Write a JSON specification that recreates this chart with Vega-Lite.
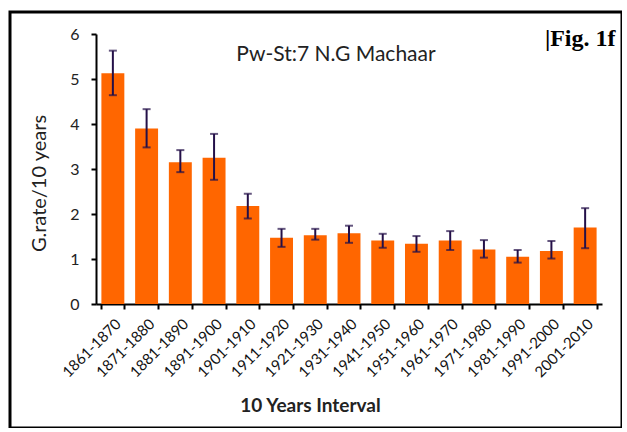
{
  "$schema": "https://vega.github.io/schema/vega-lite/v6.json",
  "width": 612,
  "height": 416,
  "autosize": {"type": "none"},
  "padding": {"left": 10, "top": 12, "right": 0, "bottom": 0},
  "background": "white",
  "config": {
    "view": {"stroke": "black", "strokeWidth": 3},
    "font": "Lato"
  },
  "title": {
    "text": "Pw-St:7 N.G Machaar",
    "font": "Lato",
    "fontSize": 21,
    "fontWeight": "normal",
    "color": "#222222",
    "anchor": "middle",
    "frame": "group",
    "dx": 20,
    "dy": 57
  },
  "data": {
    "values": [
      {"interval": "1861-1870", "rate": 5.13, "lo": 4.64, "hi": 5.63},
      {"interval": "1871-1880", "rate": 3.90, "lo": 3.48, "hi": 4.33},
      {"interval": "1881-1890", "rate": 3.15, "lo": 2.93, "hi": 3.42},
      {"interval": "1891-1900", "rate": 3.25, "lo": 2.76, "hi": 3.78},
      {"interval": "1901-1910", "rate": 2.18, "lo": 1.90, "hi": 2.45},
      {"interval": "1911-1920", "rate": 1.47, "lo": 1.27, "hi": 1.67},
      {"interval": "1921-1930", "rate": 1.53, "lo": 1.43, "hi": 1.67},
      {"interval": "1931-1940", "rate": 1.57, "lo": 1.36, "hi": 1.74},
      {"interval": "1941-1950", "rate": 1.41, "lo": 1.25, "hi": 1.56},
      {"interval": "1951-1960", "rate": 1.34, "lo": 1.16, "hi": 1.51},
      {"interval": "1961-1970", "rate": 1.41, "lo": 1.20, "hi": 1.62},
      {"interval": "1971-1980", "rate": 1.21, "lo": 1.03, "hi": 1.42},
      {"interval": "1981-1990", "rate": 1.05, "lo": 0.92, "hi": 1.20},
      {"interval": "1991-2000", "rate": 1.18, "lo": 1.01, "hi": 1.40},
      {"interval": "2001-2010", "rate": 1.70, "lo": 1.24, "hi": 2.13}
    ]
  },
  "resolve": {"axis": {"x": "independent"}},
  "layer": [
    {
      "mark": {"type": "bar", "color": "#FF6600"},
      "encoding": {
        "x": {
          "field": "interval", "type": "nominal", "sort": null,
          "scale": {"range": [86, 592], "paddingInner": 0.32, "paddingOuter": 0.16},
          "axis": {
            "title": "10 Years Interval",
            "offset": -124,
            "labelAngle": -45,
            "labelFontSize": 15,
            "labelColor": "#111111",
            "labelPadding": 7,
            "tickBand": "extent",
            "tickSize": 5,
            "tickWidth": 2,
            "tickColor": "black",
            "domainColor": "black",
            "domainWidth": 2,
            "titleFontSize": 19,
            "titleFontWeight": "bold",
            "titleColor": "#222222",
            "titleX": 300,
            "titleY": 101,
            "titleBaseline": "middle",
            "titleAnchor": null
          }
        },
        "y": {
          "field": "rate", "type": "quantitative",
          "scale": {"domain": [0, 6], "range": [292, 22], "nice": false},
          "axis": {
            "title": "G.rate/10 years",
            "values": [0, 1, 2, 3, 4, 5, 6],
            "format": "d",
            "offset": -86,
            "grid": false,
            "labelFontSize": 16,
            "labelColor": "#222222",
            "labelPadding": 12,
            "tickSize": 5,
            "tickWidth": 2,
            "tickColor": "black",
            "domainColor": "black",
            "domainWidth": 2,
            "titleFontSize": 20,
            "titleFontWeight": "normal",
            "titleColor": "#222222",
            "titleX": -57,
            "titleY": 171,
            "titleBaseline": "middle",
            "titleAnchor": null
          }
        }
      }
    },
    {
      "mark": {"type": "rule", "color": "#241048", "strokeWidth": 2},
      "encoding": {
        "x": {
          "field": "interval", "type": "nominal", "sort": null,
          "axis": {
            "orient": "top",
            "title": "|Fig. 1f",
            "labels": false,
            "ticks": false,
            "domain": false,
            "titleFont": "Liberation Serif",
            "titleFontSize": 24,
            "titleFontWeight": "bold",
            "titleColor": "black",
            "titleX": 605,
            "titleY": 33,
            "titleAlign": "right",
            "titleBaseline": "alphabetic",
            "titleAnchor": null
          }
        },
        "y": {"field": "lo", "type": "quantitative", "title": "G.rate/10 years"},
        "y2": {"field": "hi"}
      }
    },
    {
      "mark": {"type": "tick", "color": "#241048", "thickness": 2, "size": 8},
      "encoding": {
        "x": {"field": "interval", "type": "nominal", "sort": null, "axis": null},
        "y": {"field": "lo", "type": "quantitative", "title": "G.rate/10 years"}
      }
    },
    {
      "mark": {"type": "tick", "color": "#241048", "thickness": 2, "size": 8},
      "encoding": {
        "x": {"field": "interval", "type": "nominal", "sort": null, "axis": null},
        "y": {"field": "hi", "type": "quantitative", "title": "G.rate/10 years"}
      }
    }
  ]
}
